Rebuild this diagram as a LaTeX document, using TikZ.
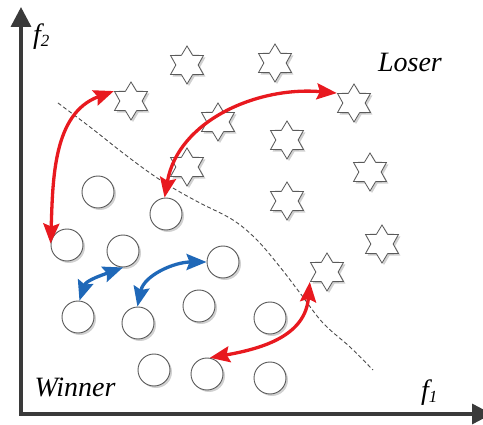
\documentclass[tikz,border=0pt]{standalone}
\usepackage{fontspec}
\setmainfont{Liberation Serif}
\usetikzlibrary{arrows.meta,shapes.geometric,shadows}
\definecolor{myred}{HTML}{E8191F}
\definecolor{myblue}{HTML}{1F68B8}
\definecolor{axisgray}{HTML}{3A3A3A}
\definecolor{shapegray}{HTML}{5A5A5A}
\begin{document}
\begin{tikzpicture}[x=1pt,y=1pt,
  shadowed/.style={drop shadow={shadow xshift=2pt,shadow yshift=-2pt,fill=black!18,opacity=1}},
  circ/.style={circle,draw=shapegray,line width=0.9pt,fill=white,minimum size=32pt,inner sep=0pt,shadowed},
  hstar/.style={star,star points=6,star point ratio=1.7,draw=shapegray,line width=0.85pt,fill=white,minimum size=38pt,inner sep=0pt,shadowed},
  axisline/.style={axisgray,line width=3.5pt,line join=miter,{Triangle[length=20pt,width=20pt]}-{Triangle[length=20pt,width=20pt]}},
  redarr/.style={myred,line width=3.3pt,{Stealth[length=20pt,width=16pt,inset=3pt]}-{Stealth[length=20pt,width=16pt,inset=3pt]}},
  bluearr/.style={myblue,line width=3.3pt,{Stealth[length=20pt,width=16pt,inset=3pt]}-{Stealth[length=20pt,width=16pt,inset=3pt]}},
  lbl/.style={font=\fontsize{28}{32}\selectfont\itshape,inner sep=0pt},
  divide/.style={gray!60!black,line width=0.9pt,dash pattern=on 4pt off 2.5pt}
]
\useasboundingbox (0,0) rectangle (483,424);
% axes
\coordinate (O) at (21,10);
\coordinate (ytip) at (21,417);
\coordinate (xtip) at (492,10);
\draw[axisline] (ytip) -- (O) -- (xtip);
% dividing line
\draw[divide] plot[smooth,tension=0.6] coordinates {(58,321) (90,297) (123,271) (150,251) (173,236) (200,221) (233,204) (257,184) (280,157) (300,131) (323,101) (350,77) (373,54)};
% stars (losers)
\node[hstar] (s1) at (187,359) {};
\node[hstar] (s2) at (275,361) {};
\node[hstar] (s3) at (131,323) {};
\node[hstar] (s4) at (354,321) {};
\node[hstar] (s5) at (218,302) {};
\node[hstar] (s6) at (287,284) {};
\node[hstar] (s7) at (187,257) {};
\node[hstar] (s8) at (370,252) {};
\node[hstar] (s9) at (287,223) {};
\node[hstar] (s10) at (382,180) {};
\node[hstar] (s11) at (327,152) {};
% circles (winners)
\node[circ] (a) at (98,232) {};
\node[circ] (b) at (166,210) {};
\node[circ] (c) at (67,179) {};
\node[circ] (d) at (123,173) {};
\node[circ] (e) at (223,162) {};
\node[circ] (f) at (78,107) {};
\node[circ] (g) at (138,101) {};
\node[circ] (h) at (199,118) {};
\node[circ] (i) at (270,106) {};
\node[circ] (j) at (154,54) {};
\node[circ] (k) at (207,50) {};
\node[circ] (l) at (270,46) {};
% labels
\node[lbl] (loser) at (410,362) {Loser};
\node[lbl] (winner) at (75,37) {Winner};
\node[lbl,anchor=base west] (f2) at (33,380) {f\raisebox{-0.2ex}{\fontsize{17}{19}\selectfont 2}};
\node[lbl,anchor=base west] (f1) at (421,24) {f\raisebox{-0.2ex}{\fontsize{17}{19}\selectfont 1}};
% interactions
\draw[redarr] (c.175) to[out=88,in=200] (s3.150);
\draw[redarr] (b.95) to[out=80,in=175] (s4.150);
\draw[redarr] (k.80) to[out=10,in=-95,looseness=1.1] (s11.210);
\draw[bluearr] (f.85) to[out=72,in=200] (d.-90);
\draw[bluearr] (g.92) to[out=78,in=180] (e.180);
\end{tikzpicture}
\end{document}
